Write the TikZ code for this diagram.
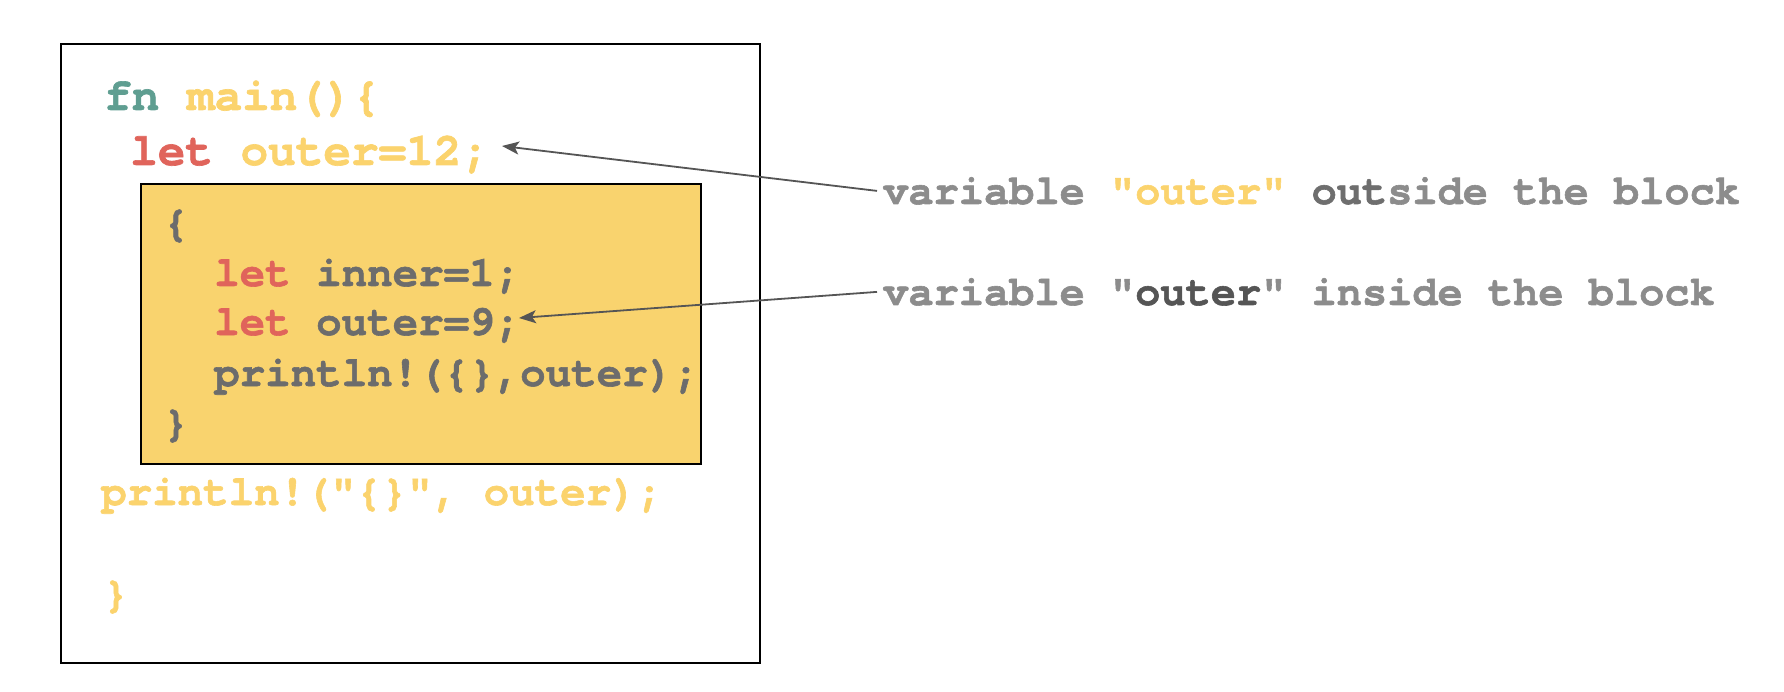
\documentclass[tikz,border=0pt]{standalone}
\usepackage{fontspec}
\setmonofont{TeX Gyre Cursor}[BoldFeatures={FakeBold=1.4}]
\usepackage{tikz}
\usetikzlibrary{positioning,arrows.meta}
\usepackage{xcolor}

\definecolor{rustteal}{HTML}{5F9E91}
\definecolor{rustyellow}{HTML}{FBD36D}
\definecolor{boxyellow}{HTML}{F9D36E}
\definecolor{rustred}{HTML}{E0645B}
\definecolor{codegray}{HTML}{6C6C6C}
\definecolor{notegray}{HTML}{8C8C8C}
\definecolor{notedark}{HTML}{6E6E6E}
\definecolor{arrowgray}{HTML}{555555}

\newcommand{\codebig}{\ttfamily\bfseries\fontsize{46pt}{54pt}\selectfont}
\newcommand{\codesmall}{\ttfamily\bfseries\fontsize{42.5pt}{50pt}\selectfont}
\newcommand{\notefont}{\ttfamily\bfseries\fontsize{42pt}{50pt}\selectfont}

\begin{document}
\begin{tikzpicture}[
  x=1pt, y=-1pt,
  block/.style={draw=black,line width=2pt},
  codetop/.style={anchor=base west,inner sep=0pt,font=\codebig},
  codeline/.style={anchor=base west,inner sep=0pt,font=\codesmall,text=codegray},
  note/.style={anchor=base west,inner xsep=6pt,inner ysep=0pt,font=\notefont,text=notegray},
  pointer/.style={-{Stealth[length=17pt,width=13pt,inset=4pt]},arrowgray,line width=1.8pt}
]
\useasboundingbox (0,0) rectangle (1784,692);

% Outer scope (main)
\draw[block,fill=white] (61,44) rectangle (760,663);
\node[codetop] (fnMain) at (104,110)
  {\textcolor{rustteal}{fn} \textcolor{rustyellow}{main()\{}};
\node[codetop] (letOuterA) at (130,165)
  {\textcolor{rustred}{let} \textcolor{rustyellow}{outer=12;}};

% Inner block
\draw[block,fill=boxyellow] (141,184) rectangle (701,464);
\node[codeline] (openBrace) at (163,236) {\{};
\node[codeline] (letInner) at (214,286) {\textcolor{rustred}{let} inner=1;};
\node[codeline] (letOuterB) at (214,335) {\textcolor{rustred}{let} outer=9;};
\node[codeline] (printInner) at (214,386) {println!(\{\},outer);};
\node[codeline] (closeBrace) at (163,436) {\}};

% Back in main
\node[codeline,text=rustyellow] (printOuter) at (101,505) {println!("\{\}", outer);};
\node[codeline,text=rustyellow] (mainEnd) at (103,607) {\}};

% Notes
\node[note] (noteOutside) at (877,204)
  {variable \textcolor{rustyellow}{"outer"} \textcolor{notedark}{out}side the block};
\node[note] (noteInside) at (877,305)
  {variable "\textcolor{arrowgray}{outer}" inside the block};

\coordinate (tipOuterA) at (502,146);
\coordinate (tipOuterB) at (519,318);
\draw[pointer] (noteOutside.west) -- (tipOuterA);
\draw[pointer] (noteInside.west) -- (tipOuterB);
\end{tikzpicture}
\end{document}
